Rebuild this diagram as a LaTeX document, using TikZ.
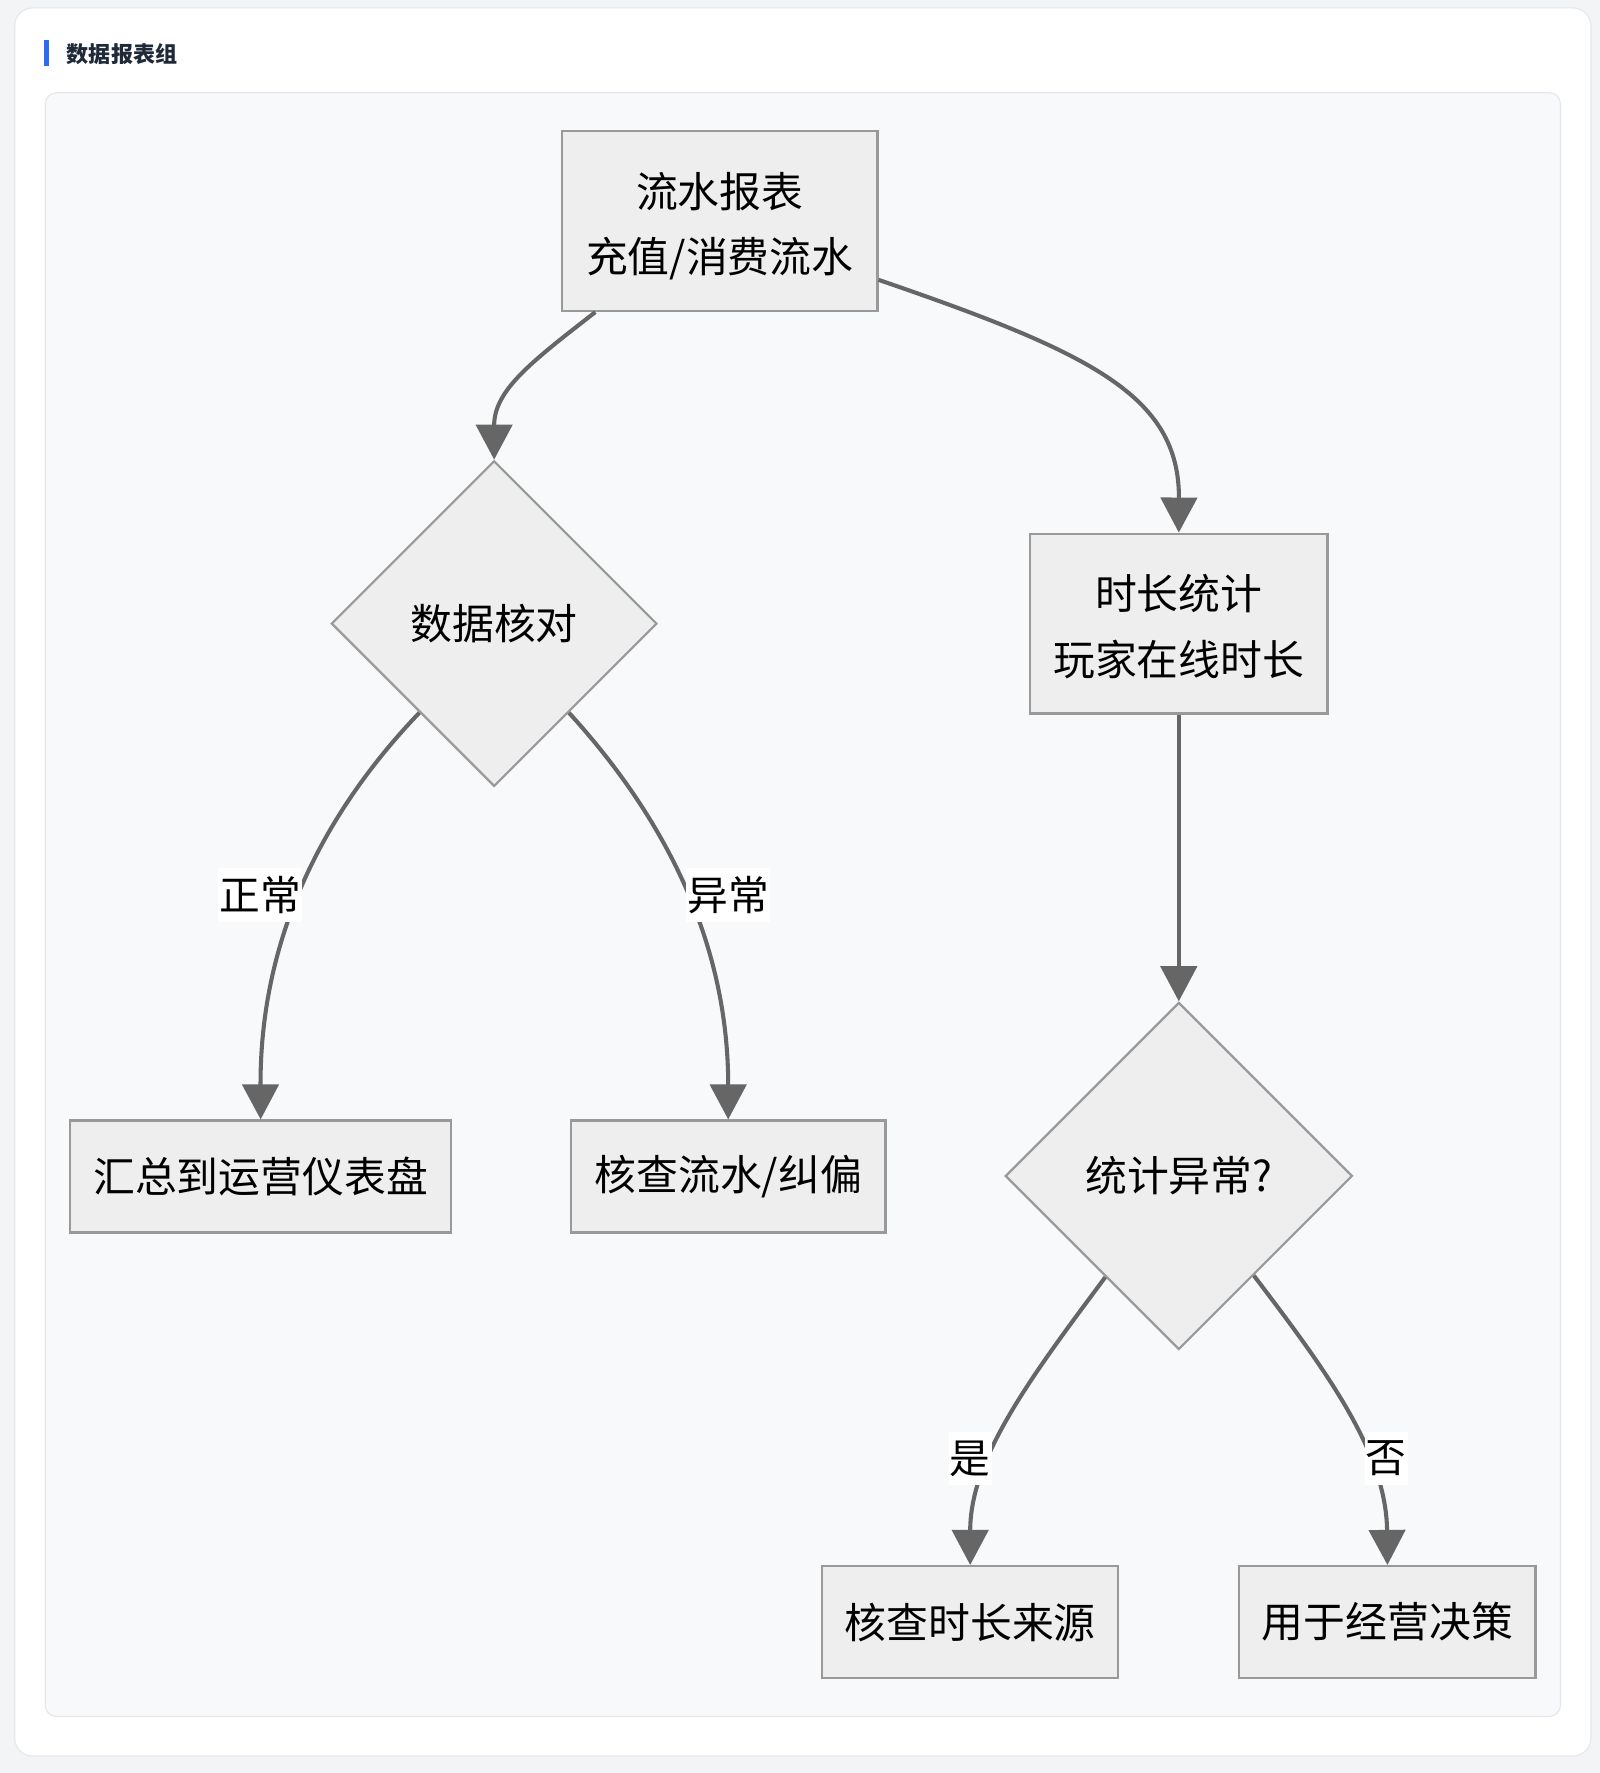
\documentclass[tikz,border=0pt]{standalone}
\usepackage{fontspec}
\setmainfont{Noto Sans CJK SC}
\usetikzlibrary{shapes.geometric,arrows.meta,calc}
\definecolor{pagebg}{HTML}{F3F4F6}
\definecolor{cardline}{HTML}{E5E7EB}
\definecolor{panelbg}{HTML}{F8F9FB}
\definecolor{boxfill}{HTML}{EEEEEE}
\definecolor{boxline}{HTML}{999999}
\definecolor{edgecol}{HTML}{666666}
\definecolor{titlecol}{HTML}{1F2937}
\definecolor{accent}{HTML}{2F6BF0}
\newcommand{\twolines}[2]{\raisebox{-5pt}[\height][\depth]{\begin{tabular}{@{}c@{}}#1\\#2\end{tabular}}}
\tikzset{
  boxnode/.style={draw=boxline, line width=2pt, fill=boxfill, rectangle, inner sep=0pt, align=center,
    font=\fontsize{37}{58}\selectfont},
  decnode/.style={draw=boxline, line width=2pt, fill=boxfill, diamond, aspect=1, inner sep=0pt,
    font=\fontsize{37}{58}\selectfont},
  flow/.style={draw=edgecol, line width=3.6pt, -{Triangle[length=31pt,width=32pt]}},
  lbl/.style={fill=white, inner xsep=1pt, inner ysep=0pt, minimum height=47pt,
    font=\fontsize{36}{40}\selectfont}
}
\begin{document}
\begin{tikzpicture}[x=1pt,y=-1pt]
\useasboundingbox (0,0) rectangle (1415,1568);
\fill[pagebg] (0,0) rectangle (1415,1568);
\draw[cardline, line width=1pt, fill=white, rounded corners=16pt] (13,7) rectangle (1407,1553);
\fill[accent] (39,35) rectangle (43,58);
\node[anchor=west, inner sep=0pt, text=titlecol, font=\fontsize{19.5}{22}\selectfont\bfseries] (title) at (59,47.5) {数据报表组};
\draw[cardline, line width=1pt, fill=panelbg, rounded corners=10pt] (40,82) rectangle (1380,1518);

\node[boxnode, minimum width=279pt, minimum height=159pt] (top) at (636.5,195.5) {\twolines{流水报表}{充值/消费流水}};
\node[decnode, minimum width=288pt, minimum height=288pt] (d1) at (437,551.5) {数据核对};
\node[boxnode, minimum width=263pt, minimum height=159pt] (time) at (1042.5,551.5) {\twolines{时长统计}{玩家在线时长}};
\node[boxnode, minimum width=337pt, minimum height=99pt] (sum) at (230.5,1040.5) {汇总到运营仪表盘};
\node[boxnode, minimum width=278pt, minimum height=99pt] (fix) at (644,1040.5) {核查流水/纠偏};
\node[decnode, minimum width=307pt, minimum height=307pt] (d2) at (1042.5,1040) {统计异常?};
\node[boxnode, minimum width=262pt, minimum height=99pt] (src) at (858,1434.5) {核查时长来源};
\node[boxnode, minimum width=262pt, minimum height=99pt] (dec) at (1227,1434.5) {用于经营决策};

\draw[flow] ([xshift=-110pt]top.south) .. controls (470,320) and (437,345) .. (d1.north);
\draw[flow] ([yshift=-52pt]top.east) .. controls (965,312) and (1043,350) .. (time.north);
\draw[flow] (d1.230) .. controls (285,720) and (230,830) .. (sum.north);
\draw[flow] (d1.-50) .. controls (585,720) and (644,830) .. (fix.north);
\draw[flow] (time.south) -- (d2.north);
\draw[flow] (d2.234) .. controls (910,1220) and (858,1290) .. (src.north);
\draw[flow] (d2.-53) .. controls (1175,1215) and (1226,1285) .. (dec.north);

\node[lbl] (l1) at (230,791.5) {正常};
\node[lbl] (l2) at (644,791.5) {异常};
\node[lbl] (l3) at (858,1290) {是};
\node[lbl] (l4) at (1226,1290) {否};
\end{tikzpicture}
\end{document}
